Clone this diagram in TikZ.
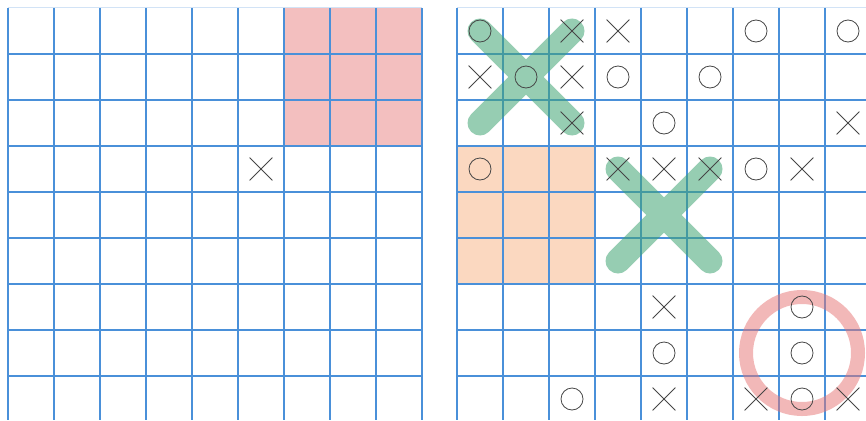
\documentclass[tikz,border=0pt]{standalone}
\usetikzlibrary{shapes.misc}
\definecolor{gridblue}{RGB}{74,144,217}
\definecolor{pinkfill}{RGB}{243,191,191}
\definecolor{orangefill}{RGB}{251,216,192}
\definecolor{markgreen}{RGB}{64,164,115}
\definecolor{ringred}{RGB}{231,115,115}
\definecolor{symgray}{RGB}{70,70,70}
\begin{document}
\begin{tikzpicture}[x=1pt,y=-1pt,
  gridline/.style={gridblue, line width=1.5pt},
  topline/.style={gridblue!25, line width=1pt},
  xmark/.style={cross out, draw=symgray, line width=0.8pt, minimum size=22pt, inner sep=0pt},
  omark/.style={circle, draw=symgray, line width=0.8pt, minimum size=22pt, inner sep=0pt},
  winline/.style={markgreen, line width=25pt, line cap=round},
  ring/.style={circle, draw=ringred, draw opacity=0.5, line width=14pt, minimum size=112pt, inner sep=0pt}]
\useasboundingbox (0,0) rectangle (866,420);
\fill[white] (0,0) rectangle (866,420);
% shaded blocks
\fill[pinkfill] (284,8) rectangle (422,146);
\fill[orangefill] (457,146) rectangle (595,284);
% left grid
\draw[topline] (8,8) -- (422,8);
\foreach \x in {8,54,...,422} \draw[gridline] (\x,8) -- (\x,420);
\foreach \y in {54,100,...,376} \draw[gridline] (8,\y) -- (422,\y);
% right grid
\draw[topline] (457,8) -- (866,8);
\foreach \x in {457,503,...,825} \draw[gridline] (\x,8) -- (\x,420);
\foreach \y in {54,100,...,376} \draw[gridline] (457,\y) -- (866,\y);
% left grid mark
\node[xmark] (L34) at (261,169) {};
% anchor coordinates for strokes
\coordinate (g1a) at (480,31);
\coordinate (g1b) at (572,123);
\coordinate (g1c) at (480,123);
\coordinate (g1d) at (572,31);
\coordinate (g2a) at (618,169);
\coordinate (g2b) at (710,261);
\coordinate (g2c) at (618,261);
\coordinate (g2d) at (710,169);
% green winning strokes (one transparency group each)
\begin{scope}[transparency group, opacity=0.55]
\draw[winline] (g1a) -- (g1b);
\draw[winline] (g1c) -- (g1d);
\end{scope}
\begin{scope}[transparency group, opacity=0.55]
\draw[winline] (g2a) -- (g2b);
\draw[winline] (g2c) -- (g2d);
\end{scope}
% red ring
\node[ring] (ring) at (802,353) {};
% row 0
\node[omark] (r0c0) at (480,31) {};
\node[xmark] (r0c2) at (572,31) {};
\node[xmark] (r0c3) at (618,31) {};
\node[omark] (r0c6) at (756,31) {};
\node[omark] (r0c8) at (848,31) {};
% row 1
\node[xmark] (r1c0) at (480,77) {};
\node[omark] (r1c1) at (526,77) {};
\node[xmark] (r1c2) at (572,77) {};
\node[omark] (r1c3) at (618,77) {};
\node[omark] (r1c5) at (710,77) {};
% row 2
\node[xmark] (r2c2) at (572,123) {};
\node[omark] (r2c4) at (664,123) {};
\node[xmark] (r2c8) at (848,123) {};
% row 3
\node[omark] (r3c0) at (480,169) {};
\node[xmark] (r3c3) at (618,169) {};
\node[xmark] (r3c4) at (664,169) {};
\node[xmark] (r3c5) at (710,169) {};
\node[omark] (r3c6) at (756,169) {};
\node[xmark] (r3c7) at (802,169) {};
% row 6
\node[xmark] (r6c4) at (664,307) {};
\node[omark] (r6c7) at (802,307) {};
% row 7
\node[omark] (r7c4) at (664,353) {};
\node[omark] (r7c7) at (802,353) {};
% row 8
\node[omark] (r8c2) at (572,399) {};
\node[xmark] (r8c4) at (664,399) {};
\node[xmark] (r8c6) at (756,399) {};
\node[omark] (r8c7) at (802,399) {};
\node[xmark] (r8c8) at (848,399) {};
\end{tikzpicture}
\end{document}
